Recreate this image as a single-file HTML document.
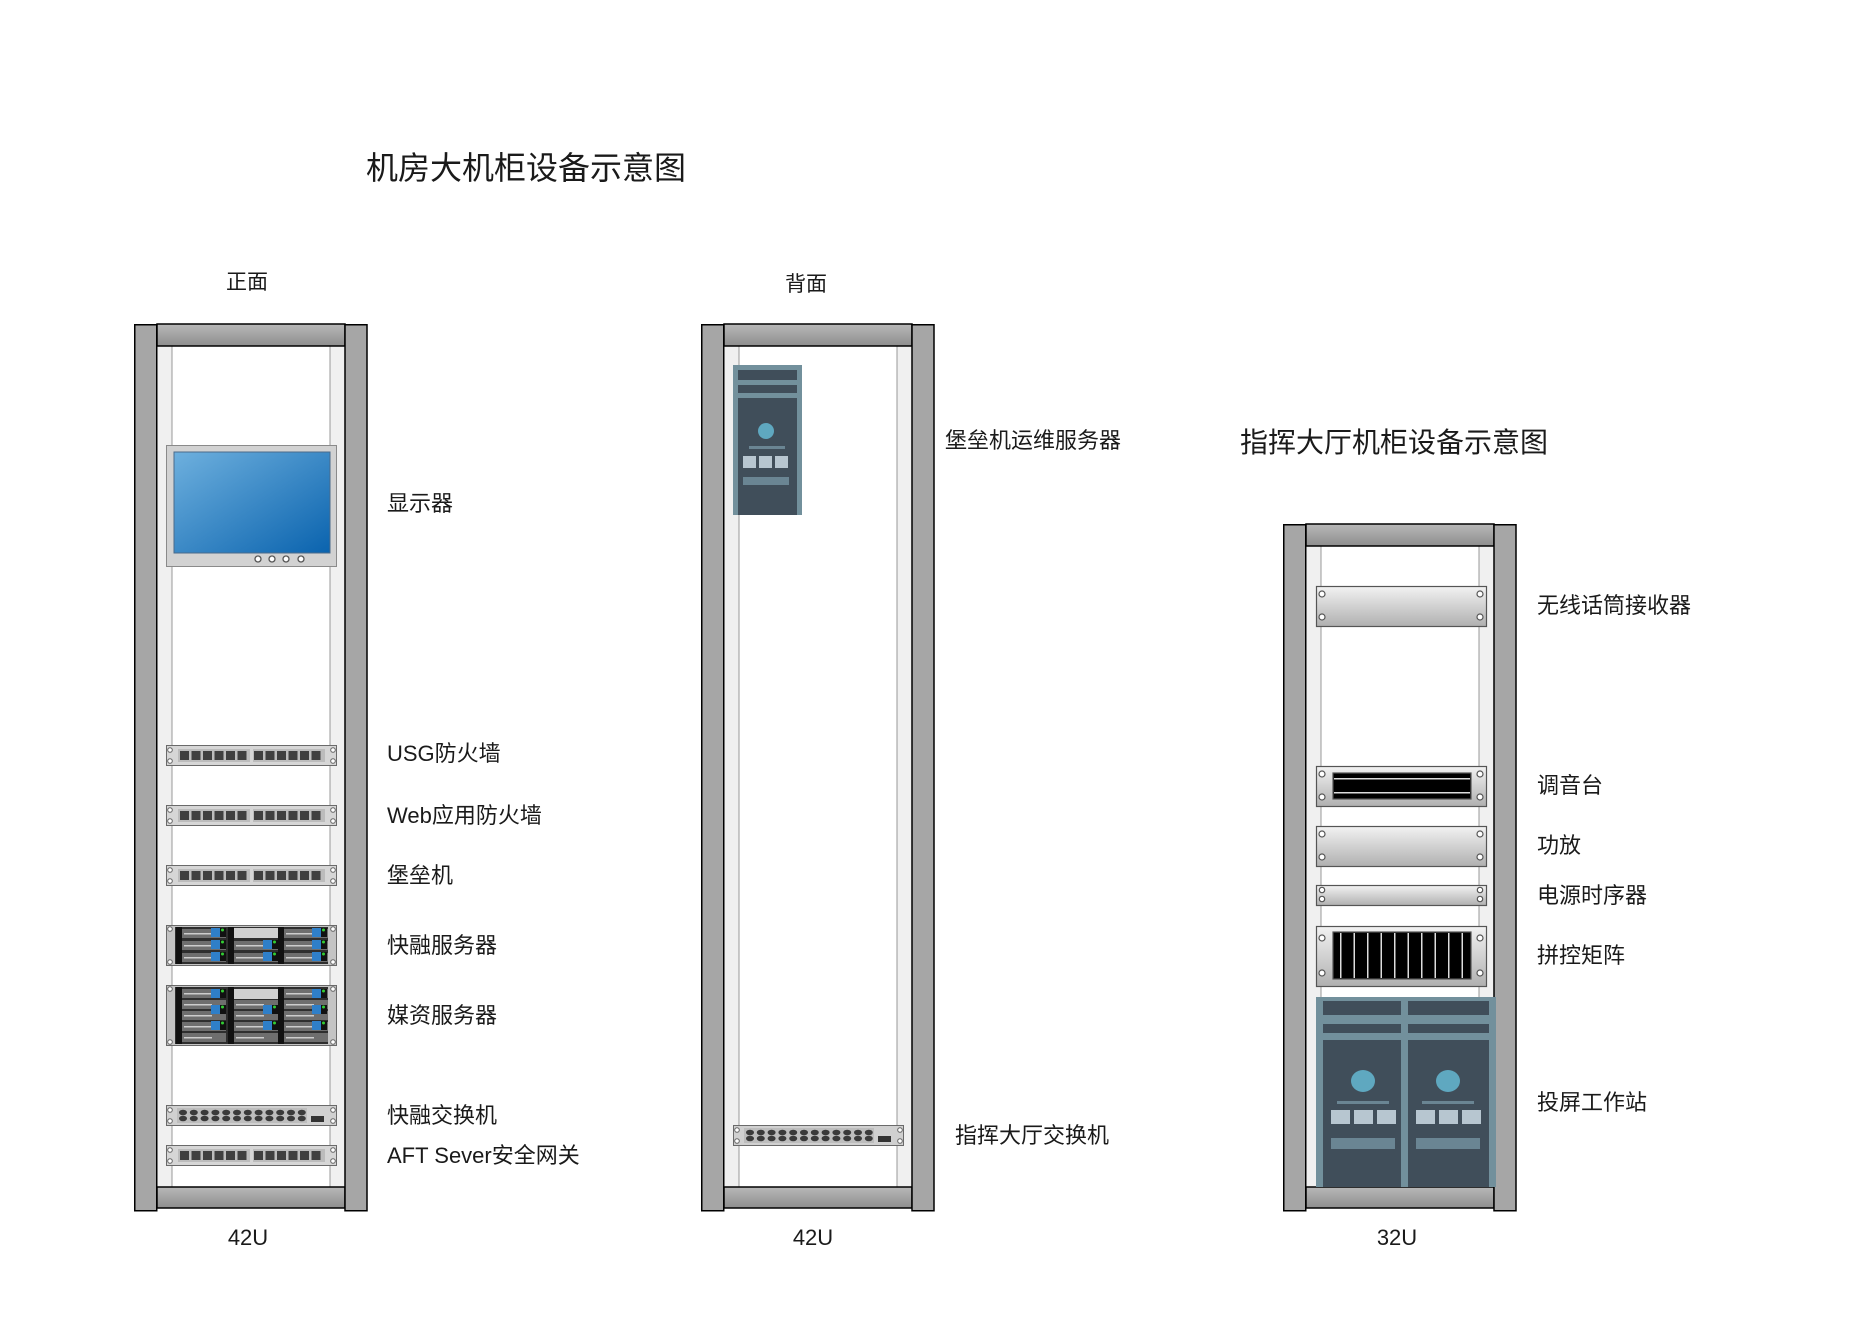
<!DOCTYPE html>
<html><head><meta charset="utf-8">
<style>
html,body{margin:0;padding:0;background:#fff;}
svg{display:block;}
text{font-family:"Liberation Sans","Noto Sans CJK SC",sans-serif;fill:#1a1a1a;}
</style></head>
<body>
<svg width="1871" height="1323" viewBox="0 0 1871 1323" xmlns="http://www.w3.org/2000/svg">
<defs>
<linearGradient id="bar" x1="0" y1="0" x2="0" y2="1"><stop offset="0" stop-color="#b8b8b8"/><stop offset="1" stop-color="#8e8e8e"/></linearGradient>
<linearGradient id="scr" x1="0" y1="0" x2="1" y2="1"><stop offset="0" stop-color="#6eb0de"/><stop offset="1" stop-color="#0a63ae"/></linearGradient>
<linearGradient id="pan" x1="0" y1="0" x2="0" y2="1"><stop offset="0" stop-color="#f2f2f2"/><stop offset="1" stop-color="#b0b0b0"/></linearGradient>

<g id="rack">
  <rect x="23" y="0" width="188" height="870" fill="#fff"/>
  <rect x="23" y="0" width="15" height="866" fill="#f0f0f0" stroke="#999" stroke-width="1"/>
  <rect x="196" y="0" width="15" height="866" fill="#f0f0f0" stroke="#999" stroke-width="1"/>
</g>

<g id="pp">
  <rect x="0.5" y="0.5" width="170" height="20" fill="#d6d6d6" stroke="#6a6a6a"/>
  <circle cx="4" cy="5" r="2.3" fill="#fff" stroke="#666"/><circle cx="4" cy="16" r="2.3" fill="#fff" stroke="#666"/>
  <circle cx="167" cy="5" r="2.3" fill="#fff" stroke="#666"/><circle cx="167" cy="16" r="2.3" fill="#fff" stroke="#666"/>
  <rect x="12" y="4" width="72" height="13" fill="#bcbcbc"/>
  <rect x="87" y="4" width="72" height="13" fill="#bcbcbc"/>
  <g fill="#3f3f3f">
   <rect x="14" y="6" width="9" height="9"/><rect x="25.5" y="6" width="9" height="9"/><rect x="37" y="6" width="9" height="9"/><rect x="48.5" y="6" width="9" height="9"/><rect x="60" y="6" width="9" height="9"/><rect x="71.5" y="6" width="9" height="9"/>
   <rect x="88" y="6" width="9" height="9"/><rect x="99.5" y="6" width="9" height="9"/><rect x="111" y="6" width="9" height="9"/><rect x="122.5" y="6" width="9" height="9"/><rect x="134" y="6" width="9" height="9"/><rect x="145.5" y="6" width="9" height="9"/>
  </g>
</g>

<g id="swr">
  <ellipse cx="0" cy="0" rx="4" ry="2.8"/><ellipse cx="10.8" cy="0" rx="4" ry="2.8"/><ellipse cx="21.6" cy="0" rx="4" ry="2.8"/><ellipse cx="32.4" cy="0" rx="4" ry="2.8"/><ellipse cx="43.2" cy="0" rx="4" ry="2.8"/><ellipse cx="54" cy="0" rx="4" ry="2.8"/>
  <ellipse cx="64.8" cy="0" rx="4" ry="2.8"/><ellipse cx="75.6" cy="0" rx="4" ry="2.8"/><ellipse cx="86.4" cy="0" rx="4" ry="2.8"/><ellipse cx="97.2" cy="0" rx="4" ry="2.8"/><ellipse cx="108" cy="0" rx="4" ry="2.8"/><ellipse cx="118.8" cy="0" rx="4" ry="2.8"/>
</g>
<g id="sw">
  <rect x="0.5" y="0.5" width="170" height="20" fill="#d0d0d0" stroke="#6a6a6a"/>
  <circle cx="4" cy="5" r="2.3" fill="#fff" stroke="#666"/><circle cx="4" cy="16" r="2.3" fill="#fff" stroke="#666"/>
  <circle cx="167" cy="5" r="2.3" fill="#fff" stroke="#666"/><circle cx="167" cy="16" r="2.3" fill="#fff" stroke="#666"/>
  <rect x="11" y="3" width="130" height="15" fill="#bdbdbd"/>
  <use href="#swr" x="17" y="7.5" fill="#3a3a3a"/>
  <use href="#swr" x="17" y="13.5" fill="#3a3a3a"/>
  <rect x="145" y="11" width="13" height="6" fill="#333"/>
</g>

<g id="row">
  <rect x="16" y="0" width="44" height="9" fill="#6e6e6e"/><rect x="18" y="4" width="28" height="1.5" fill="#ccc"/>
  <rect x="68" y="0" width="44" height="9" fill="#6e6e6e"/><rect x="70" y="4" width="28" height="1.5" fill="#ccc"/>
  <rect x="118" y="0" width="44" height="9" fill="#6e6e6e"/><rect x="120" y="4" width="28" height="1.5" fill="#ccc"/>
</g>
<g id="bl"><rect width="9" height="9" fill="#2f7fc8"/><rect x="9" width="6" height="9" fill="#111"/><circle cx="11.5" cy="2" r="1.5" fill="#3c3"/></g>
</defs>

<!-- Titles -->
<text x="366" y="179" font-size="32">机房大机柜设备示意图</text>
<text x="1240" y="452" font-size="28">指挥大厅机柜设备示意图</text>
<text x="226" y="289" font-size="21">正面</text>
<text x="785" y="291" font-size="21">背面</text>

<!-- ===== Rack 1 ===== -->
<g transform="translate(134,324)">
  <use href="#rack"/>
  <rect x="23" y="0" width="188" height="22" fill="url(#bar)" stroke="#000" stroke-width="1.5"/>
  <rect x="23" y="863" width="188" height="21" fill="url(#bar)" stroke="#000" stroke-width="1.5"/>
  <rect x="0.75" y="0.75" width="22" height="886" fill="#a6a6a6" stroke="#000" stroke-width="1.5"/>
  <rect x="211" y="0.75" width="22" height="886" fill="#a6a6a6" stroke="#000" stroke-width="1.5"/>
</g>
<!-- monitor -->
<rect x="166.5" y="445.5" width="170" height="121" fill="#d2d2d2" stroke="#8a8a8a"/>
<rect x="174" y="452" width="156" height="101" fill="url(#scr)" stroke="#4a6a8a"/>
<g fill="#fff" stroke="#555" stroke-width="1.3"><circle cx="258" cy="559" r="3"/><circle cx="272" cy="559" r="3"/><circle cx="286" cy="559" r="3"/><circle cx="301" cy="559" r="3"/></g>

<use href="#pp" x="166" y="745"/>
<use href="#pp" x="166" y="805"/>
<use href="#pp" x="166" y="865"/>
<!-- server 2U -->
<g transform="translate(166,925)">
  <rect x="0.5" y="0.5" width="170" height="40" fill="#c4c4c4" stroke="#6a6a6a"/>
  <circle cx="4" cy="4" r="2.3" fill="#fff" stroke="#666"/><circle cx="4" cy="37" r="2.3" fill="#fff" stroke="#666"/>
  <circle cx="167" cy="4" r="2.3" fill="#fff" stroke="#666"/><circle cx="167" cy="37" r="2.3" fill="#fff" stroke="#666"/>
  <rect x="9" y="2" width="153" height="37" fill="#2e2e2e"/>
  <use href="#row" y="4"/><use href="#row" y="16"/><use href="#row" y="28"/>
  <rect x="68" y="3" width="44" height="10" fill="#d0d0d0"/>
  <rect x="10" y="2" width="6" height="37" fill="#111"/><rect x="62" y="2" width="6" height="37" fill="#111"/><rect x="112" y="2" width="6" height="37" fill="#111"/>
  <use href="#bl" x="45" y="3"/><use href="#bl" x="45" y="15"/><use href="#bl" x="45" y="27"/>
  <use href="#bl" x="97" y="15"/><use href="#bl" x="97" y="27"/>
  <use href="#bl" x="146" y="3"/><use href="#bl" x="146" y="15"/><use href="#bl" x="146" y="27"/>
</g>
<!-- server 3U -->
<g transform="translate(166,985)">
  <rect x="0.5" y="0.5" width="170" height="60" fill="#c4c4c4" stroke="#6a6a6a"/>
  <circle cx="4" cy="4" r="2.3" fill="#fff" stroke="#666"/><circle cx="4" cy="57" r="2.3" fill="#fff" stroke="#666"/>
  <circle cx="167" cy="4" r="2.3" fill="#fff" stroke="#666"/><circle cx="167" cy="57" r="2.3" fill="#fff" stroke="#666"/>
  <rect x="9" y="2" width="153" height="57" fill="#2e2e2e"/>
  <use href="#row" y="4"/><use href="#row" y="15"/><use href="#row" y="26"/><use href="#row" y="37"/><use href="#row" y="48"/>
  <rect x="68" y="4" width="44" height="10" fill="#d0d0d0"/>
  <rect x="10" y="2" width="6" height="57" fill="#111"/><rect x="62" y="2" width="6" height="57" fill="#111"/><rect x="112" y="2" width="6" height="57" fill="#111"/>
  <use href="#bl" x="45" y="4"/><use href="#bl" x="45" y="20"/><use href="#bl" x="45" y="36"/>
  <use href="#bl" x="97" y="20"/><use href="#bl" x="97" y="36"/>
  <use href="#bl" x="146" y="4"/><use href="#bl" x="146" y="20"/><use href="#bl" x="146" y="36"/>
</g>
<use href="#sw" x="166" y="1105"/>
<use href="#pp" x="166" y="1145"/>

<g font-size="22">
<text x="387" y="511">显示器</text>
<text x="387" y="761">USG防火墙</text>
<text x="387" y="823">Web应用防火墙</text>
<text x="387" y="883">堡垒机</text>
<text x="387" y="953">快融服务器</text>
<text x="387" y="1023">媒资服务器</text>
<text x="387" y="1123">快融交换机</text>
<text x="387" y="1163">AFT Sever安全网关</text>
</g>
<text x="248" y="1245" font-size="22" text-anchor="middle">42U</text>

<!-- ===== Rack 2 ===== -->
<g transform="translate(701,324)">
  <use href="#rack"/>
  <rect x="23" y="0" width="188" height="22" fill="url(#bar)" stroke="#000" stroke-width="1.5"/>
  <rect x="23" y="863" width="188" height="21" fill="url(#bar)" stroke="#000" stroke-width="1.5"/>
  <rect x="0.75" y="0.75" width="22" height="886" fill="#a6a6a6" stroke="#000" stroke-width="1.5"/>
  <rect x="211" y="0.75" width="22" height="886" fill="#a6a6a6" stroke="#000" stroke-width="1.5"/>
</g>
<g transform="translate(733,365)">
  <rect width="69" height="150" fill="#72909c"/>
  <rect x="5" y="5" width="59" height="10" fill="#404e5a"/>
  <rect x="5" y="20" width="59" height="8" fill="#404e5a"/>
  <rect x="5" y="33" width="59" height="117" fill="#404e5a"/>
  <circle cx="33" cy="66" r="8" fill="#5fa8c0"/>
  <rect x="16" y="81" width="36" height="3" fill="#6a8593"/>
  <rect x="10" y="91" width="13" height="12" fill="#b7c6d0"/><rect x="26" y="91" width="13" height="12" fill="#b7c6d0"/><rect x="42" y="91" width="13" height="12" fill="#b7c6d0"/>
  <rect x="10" y="112" width="46" height="8" fill="#6a8593"/>
</g>
<use href="#sw" x="733" y="1125"/>
<text x="945" y="448" font-size="22">堡垒机运维服务器</text>
<text x="955" y="1143" font-size="22">指挥大厅交换机</text>
<text x="813" y="1245" font-size="22" text-anchor="middle">42U</text>

<!-- ===== Rack 3 ===== -->
<g transform="translate(1283,524)">
  <rect x="23" y="0" width="188" height="668" fill="#fff"/>
  <rect x="23" y="0" width="15" height="666" fill="#f0f0f0" stroke="#999"/>
  <rect x="196" y="0" width="15" height="666" fill="#f0f0f0" stroke="#999"/>
  <rect x="23" y="0" width="188" height="22" fill="url(#bar)" stroke="#000" stroke-width="1.5"/>
  <rect x="23" y="663" width="188" height="21" fill="url(#bar)" stroke="#000" stroke-width="1.5"/>
  <rect x="0.75" y="0.75" width="22" height="686" fill="#a6a6a6" stroke="#000" stroke-width="1.5"/>
  <rect x="211" y="0.75" width="22" height="686" fill="#a6a6a6" stroke="#000" stroke-width="1.5"/>
</g>
<!-- wireless receiver -->
<g transform="translate(1316,586)" fill="#fff" stroke="#555" stroke-width="1.2">
  <rect x="0.5" y="0.5" width="170" height="40" fill="url(#pan)"/>
  <circle cx="6" cy="8" r="3"/><circle cx="6" cy="31" r="3"/><circle cx="164" cy="8" r="3"/><circle cx="164" cy="31" r="3"/>
</g>
<!-- mixer -->
<g transform="translate(1316,766)" stroke="#555" stroke-width="1.2">
  <rect x="0.5" y="0.5" width="170" height="40" fill="url(#pan)"/>
  <rect x="17" y="7" width="138" height="26" fill="#000"/>
  <rect x="18" y="12" width="136" height="1.5" fill="#ddd" stroke="none"/>
  <rect x="18" y="26" width="136" height="1.5" fill="#ddd" stroke="none"/>
  <g fill="#fff"><circle cx="6" cy="8" r="3"/><circle cx="6" cy="31" r="3"/><circle cx="164" cy="8" r="3"/><circle cx="164" cy="31" r="3"/></g>
</g>
<!-- amp -->
<g transform="translate(1316,826)" fill="#fff" stroke="#555" stroke-width="1.2">
  <rect x="0.5" y="0.5" width="170" height="40" fill="url(#pan)"/>
  <circle cx="6" cy="8" r="3"/><circle cx="6" cy="31" r="3"/><circle cx="164" cy="8" r="3"/><circle cx="164" cy="31" r="3"/>
</g>
<!-- power sequencer -->
<g transform="translate(1316,885)" fill="#fff" stroke="#555" stroke-width="1.2">
  <rect x="0.5" y="0.5" width="170" height="20" fill="url(#pan)"/>
  <circle cx="6" cy="5" r="2.7"/><circle cx="6" cy="14" r="2.7"/><circle cx="164" cy="5" r="2.7"/><circle cx="164" cy="14" r="2.7"/>
</g>
<!-- matrix -->
<g transform="translate(1316,926)" stroke="#555" stroke-width="1.2">
  <rect x="0.5" y="0.5" width="170" height="60" fill="url(#pan)"/>
  <rect x="17" y="6" width="138" height="47" fill="#000"/>
  <g fill="#ddd" stroke="none">
   <rect x="24" y="7" width="1.5" height="45"/><rect x="37.5" y="7" width="1.5" height="45"/><rect x="51" y="7" width="1.5" height="45"/><rect x="64.5" y="7" width="1.5" height="45"/><rect x="78" y="7" width="1.5" height="45"/><rect x="91.5" y="7" width="1.5" height="45"/><rect x="105" y="7" width="1.5" height="45"/><rect x="118.5" y="7" width="1.5" height="45"/><rect x="132" y="7" width="1.5" height="45"/><rect x="145.5" y="7" width="1.5" height="45"/>
  </g>
  <g fill="#fff"><circle cx="6" cy="12" r="3"/><circle cx="6" cy="47" r="3"/><circle cx="164" cy="12" r="3"/><circle cx="164" cy="47" r="3"/></g>
</g>
<!-- workstation -->
<g transform="translate(1316,997)">
  <rect width="180" height="190" fill="#72909c"/>
  <rect x="7" y="4" width="78" height="14" fill="#404e5a"/><rect x="92" y="4" width="81" height="14" fill="#404e5a"/>
  <rect x="7" y="27" width="78" height="9" fill="#404e5a"/><rect x="92" y="27" width="81" height="9" fill="#404e5a"/>
  <rect x="7" y="43" width="78" height="147" fill="#404e5a"/><rect x="92" y="43" width="81" height="147" fill="#404e5a"/>
  <ellipse cx="47" cy="84" rx="12" ry="11" fill="#5fa8c0"/><ellipse cx="132" cy="84" rx="12" ry="11" fill="#5fa8c0"/>
  <rect x="21" y="104" width="52" height="3" fill="#6a8593"/><rect x="106" y="104" width="52" height="3" fill="#6a8593"/>
  <g fill="#b7c6d0">
   <rect x="15" y="113" width="19" height="14"/><rect x="38" y="113" width="19" height="14"/><rect x="61" y="113" width="19" height="14"/>
   <rect x="100" y="113" width="19" height="14"/><rect x="123" y="113" width="19" height="14"/><rect x="146" y="113" width="19" height="14"/>
  </g>
  <rect x="15" y="141" width="64" height="11" fill="#6a8593"/><rect x="100" y="141" width="64" height="11" fill="#6a8593"/>
</g>
<g font-size="22">
<text x="1537" y="613">无线话筒接收器</text>
<text x="1537" y="793">调音台</text>
<text x="1537" y="853">功放</text>
<text x="1537" y="903">电源时序器</text>
<text x="1537" y="963">拼控矩阵</text>
<text x="1537" y="1110">投屏工作站</text>
</g>
<text x="1397" y="1245" font-size="22" text-anchor="middle">32U</text>
</svg>
</body></html>
